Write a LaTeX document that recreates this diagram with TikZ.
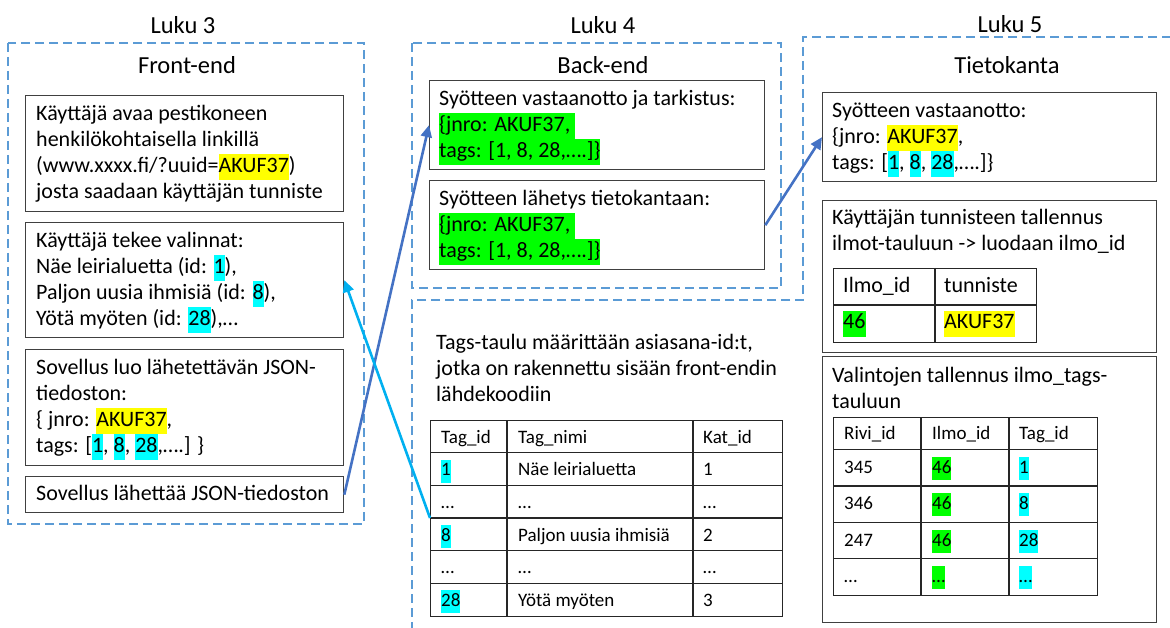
\documentclass[tikz,border=0pt]{standalone}
\usepackage{fontspec}
\setmainfont{Carlito}
\usetikzlibrary{arrows.meta}

\definecolor{frameblue}{HTML}{5B9BD5}
\definecolor{arrowdark}{HTML}{4472C4}
\definecolor{arrowlight}{HTML}{00B0F0}
\definecolor{boxgray}{HTML}{404040}
\definecolor{hlyellow}{HTML}{FFFF00}
\definecolor{hlcyan}{HTML}{00FFFF}
\definecolor{hlgreen}{HTML}{00FF00}

% highlighted text: a colour band as tall as the line
\newcommand\hlmark[2]{{\setlength{\fboxsep}{0pt}\colorbox{#1}{\strut#2}}}
\newcommand\hy[1]{\hlmark{hlyellow}{#1}}
\newcommand\hc[1]{\hlmark{hlcyan}{#1}}
\newcommand\hg[1]{\hlmark{hlgreen}{#1}}

\newcommand\bodyfont{\fontsize{22}{26}\selectfont}
\newcommand\smallcellfont{\fontsize{19}{23}\selectfont}

\tikzset{
  frame/.style={draw=frameblue, line width=1.3pt, dash pattern=on 9pt off 5pt},
  stepbox/.style={draw=boxgray, line width=1.3pt, inner sep=0pt, anchor=north west},
  tablebox/.style={draw=black!85, line width=1.3pt, inner sep=0pt, anchor=north west},
  tableline/.style={draw=black!85, line width=1.3pt},
  body/.style={font=\bodyfont, align=left, anchor=north west, inner sep=0pt},
  title/.style={font=\fontsize{24.5}{29}\selectfont, inner sep=0pt},
  cell/.style={font=\smallcellfont, anchor=base west, inner sep=0pt},
  bigcell/.style={font=\bodyfont, anchor=base west, inner sep=0pt},
  flowdark/.style={draw=arrowdark, line width=2.6pt, -{Triangle[length=12pt,width=11pt]}},
  flowlight/.style={draw=arrowlight, line width=2.6pt, -{Triangle[length=12pt,width=11pt]}},
}

\begin{document}
\begin{tikzpicture}[x=1pt,y=-1pt]
\useasboundingbox (0,0) rectangle (1170,628);

% ---------- Luku 3: Front-end ----------
\draw[frame] (8,43) rectangle (364,524);
\node[title] (luku3) at (183,25) {Luku 3};
\node[title] (front) at (187,65) {Front-end};

\node[stepbox, minimum width=318pt, minimum height=116pt] (f1) at (25,95) {};
\node[body] (f1t) at ([shift={(11,7)}]f1.north west)
  {\strut Käyttäjä avaa pestikoneen\\
   henkilökohtaisella linkillä\\
   (www.xxxx.fi/?uuid=\hy{AKUF37})\\
   josta saadaan käyttäjän tunniste};

\node[stepbox, minimum width=318pt, minimum height=115pt] (f2) at (25,222) {};
\node[body] (f2t) at ([shift={(11,7)}]f2.north west)
  {\strut Käyttäjä tekee valinnat:\\
   Näe leirialuetta (id: \hc{1}),\\
   Paljon uusia ihmisiä (id: \hc{8}),\\
   Yötä myöten (id: \hc{28}),…};

\node[stepbox, minimum width=318pt, minimum height=116pt] (f3) at (25,349) {};
\node[body] (f3t) at ([shift={(11,7)}]f3.north west)
  {\strut Sovellus luo lähetettävän JSON-\\
   tiedoston:\\
   \{ jnro: \hy{AKUF37},\\
   tags: [\hc{1}, \hc{8}, \hc{28},….] \}};

\node[stepbox, minimum width=318pt, minimum height=36pt] (f4) at (25,476) {};
\node[body] (f4t) at ([shift={(11,6)}]f4.north west)
  {\strut Sovellus lähettää JSON-tiedoston};

% ---------- Luku 4: Back-end ----------
\draw[frame] (412,43) rectangle (781,288);
\node[title] (luku4) at (603,25) {Luku 4};
\node[title] (back) at (603,65) {Back-end};

\node[stepbox, minimum width=335pt, minimum height=89pt] (bA) at (429,80) {};
\node[body] (bAt) at ([shift={(10,7)}]bA.north west)
  {\strut Syötteen vastaanotto ja tarkistus:\\
   \hg{\{jnro: AKUF37, }\\
   \hg{tags: [1, 8, 28,….]\}}};

\node[stepbox, minimum width=335pt, minimum height=89pt] (bB) at (429,180) {};
\node[body] (bBt) at ([shift={(10,7)}]bB.north west)
  {\strut Syötteen lähetys tietokantaan:\\
   \hg{\{jnro: AKUF37, }\\
   \hg{tags: [1, 8, 28,….]\}}};

% ---------- Luku 5: Tietokanta (incl. the tags table) ----------
\draw[frame] (1185,37) -- (803,37) -- (803,300) -- (412,300) -- (412,640);
\node[title] (luku5) at (1010,24) {Luku 5};
\node[title] (db) at (1007,65) {Tietokanta};

\node[body] (tagsnote) at (436,331)
  {\strut Tags-taulu määrittään asiasana-id:t,\\
   jotka on rakennettu sisään front-endin\\
   lähdekoodiin};

\node[tablebox, minimum width=352pt, minimum height=196pt] (tags) at (430,420) {};
\foreach \x in {507,693} \draw[tableline] (\x,420) -- (\x,616);
\foreach \y in {452.67,485.33,518,550.67,583.33} \draw[tableline] (430,\y) -- (782,\y);
\coordinate (row8) at (430,518);
\foreach \i/\a/\b/\c in {0/Tag\_id/Tag\_nimi/Kat\_id,
    1/\hc{1}/Näe leirialuetta/1,
    2/…/…/…,
    3/\hc{8}/Paljon uusia ihmisiä/2,
    4/…/…/…,
    5/\hc{28}/Yötä myöten/3}{
  \node[cell] (tg\i a) at (441,{420+\i*32.67+23}) {\a};
  \node[cell] (tg\i b) at (518,{420+\i*32.67+23}) {\b};
  \node[cell] (tg\i c) at (703,{420+\i*32.67+23}) {\c};
}

\node[stepbox, minimum width=334pt, minimum height=89pt] (r1) at (822,92) {};
\node[body] (r1t) at ([shift={(10,7)}]r1.north west)
  {\strut Syötteen vastaanotto:\\
   \{jnro: \hy{AKUF37},\\
   tags: [\hc{1}, \hc{8}, \hc{28},….]\}};

\node[stepbox, minimum width=334pt, minimum height=152pt] (r2) at (822,200) {};
\node[body] (r2t) at ([shift={(10,6)}]r2.north west)
  {\strut Käyttäjän tunnisteen tallennus\\
   ilmot-tauluun -> luodaan ilmo\_id};
\node[tablebox, minimum width=203pt, minimum height=74pt] (ilmot) at (833,268) {};
\draw[tableline] (935,268) -- (935,342);
\draw[tableline] (833,305) -- (1036,305);
\node[bigcell] (il0a) at (843,293) {Ilmo\_id};
\node[bigcell] (il0b) at (944,293) {tunniste};
\node[bigcell] (il1a) at (843,329) {\hg{46}};
\node[bigcell] (il1b) at (944,329) {\hy{AKUF37}};

\node[stepbox, minimum width=334pt, minimum height=266pt] (r3) at (822,356) {};
\node[body] (r3t) at ([shift={(10,8)}]r3.north west)
  {\strut Valintojen tallennus ilmo\_tags-\\
   tauluun};
\node[tablebox, minimum width=264pt, minimum height=178pt] (ilmotags) at (833,417) {};
\foreach \x in {921,1009} \draw[tableline] (\x,417) -- (\x,595);
\foreach \y in {449.7,486,522.3,558.7} \draw[tableline] (833,\y) -- (1097,\y);
\foreach \i/\y/\a/\b/\c in {0/439/Rivi\_id/Ilmo\_id/Tag\_id,
    1/473/345/\hg{46}/\hc{1},
    2/509.5/346/\hg{46}/\hc{8},
    3/546/247/\hg{46}/\hc{28},
    4/582/…/\hg{…}/\hc{…}}{
  \node[cell] (it\i a) at (844,\y) {\a};
  \node[cell] (it\i b) at (932,\y) {\b};
  \node[cell] (it\i c) at (1019,\y) {\c};
}

% ---------- connectors ----------
\draw[flowdark] (f4.east) -- (bA.west);
\draw[flowdark] (bB.east) -- (r1.west);
\draw[flowlight] (row8) -- (f2.east);

\end{tikzpicture}
\end{document}
